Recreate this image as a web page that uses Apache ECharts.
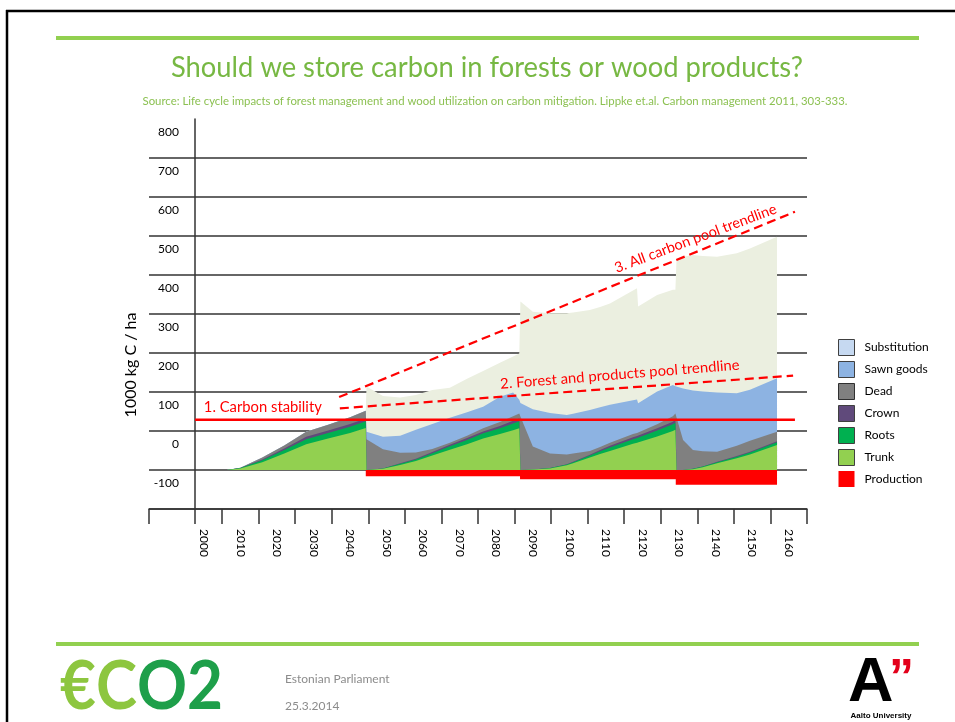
<!DOCTYPE html>
<html>
<head>
<meta charset="utf-8">
<script src="https://cdn.jsdelivr.net/npm/echarts@6/dist/echarts.min.js"></script>
<style>
html,body{margin:0;padding:0;background:#ffffff;}
#chart{width:955px;height:722px;}
</style>
</head>
<body>
<div id="chart"></div>
<script>
// ---------------- data ----------------
const categories = ['', '2000','2010','2020','2030','2040','2050','2060','2070','2080','2090','2100','2110','2120','2130','2140','2150','2160'];
const yTickLabels = ['-100','0','100','200','300','400','500','600','700','800'];

const years = [
  2006.3, 2010, 2016, 2022, 2028, 2034, 2040, 2044.3,
  2044.5, 2049, 2053.7, 2058, 2062.5, 2067.3, 2072, 2076.4, 2081, 2084.6, 2086.3,
  2086.6, 2090, 2094.7, 2099.3, 2101, 2105.6, 2108.4, 2111.1, 2117.4, 2118.5, 2118.8, 2124, 2128.3, 2129.0,
  2129.3, 2131.1, 2133.8, 2136.5, 2140.4, 2145.8, 2149.4, 2156.8
];
const trunk = [0,4,20,42,66,81,95,108, 0,3,13,23,37,52,66,81,92,102,107, 0,1,4,12,17,32,41,49,67,70,71,86,100,103, 0,0,2,7,17,30,40,64];
const roots = [0,1,5,9,13,14,16,17, 0,1,3,4,6,9,11,13,15,17,18, 0,0,1,2,3,5,7,9,12,12,12,15,17,18, 0,0,1,2,3,4,5,7];
const crown = [0,0,2,4,6,6,7,7, 0,0,1,2,3,4,5,5,6,7,7, 0,0,0,1,1,2,3,4,5,5,5,6,7,8, 0,0,0,0,1,2,2,3];
const dead = [0,1,5,8,13,15,17,20, 79,49,27,16,8,5,6,8,10,12,13, 137,59,37,25,21,10,8,8,8,8,8,10,14,16, 145,77,48,39,26,26,28,24];
const sawnGoods = [0,0,0,0,0,0,0,0, 19,32,44,58,64,64,60,55,65,61,35, 35,96,104,101,102,105,102,97,87,86,75,84,80,70, 70,132,153,153,152,135,131,137];
const substitution = [0,0,0,0,0,0,0,0, 116,105,98,89,87,77,86,92,87,92,119, 260,250,256,261,260,256,257,260,281,285,248,248,244,247, 323,338,347,348,348,359,362,363];

const productionYears = [2044.3, 2086.5, 2129.1, 2156.8];
const production = [-16, -24, -38, -38];

const stabilityYears = [1997.6, 2161.7];
const stability = [129, 129];
const forestTrendYears = [2037.2, 2161.2];
const forestTrend = [158, 242];
const allTrendYears = [2037.0, 2161.7];
const allTrend = [187, 662];

// ---------------- helpers ----------------
const pairs = (xs, ys) => xs.map((x, i) => [x, ys[i]]);
const addArr = (a, b) => a.map((v, i) => v + b[i]);
const cTrunk = trunk.slice();
const cRoots = addArr(cTrunk, roots);
const cCrown = addArr(cRoots, crown);
const cDead = addArr(cCrown, dead);
const cSawn = addArr(cDead, sawnGoods);
const cSubst = addArr(cSawn, substitution);

const FONT = 'Lato, "Open Sans", sans-serif';
const RED = '#ff0000';

function areaSeries(name, color, vals) {
  return {
    type: 'line', name: name, xAxisIndex: 1, yAxisIndex: 0,
    data: pairs(years, vals), symbol: 'none', showSymbol: false,
    color: color, lineStyle: { width: 0, color: color },
    areaStyle: { color: color, opacity: 1 }, silent: true, z: 2
  };
}
function trendSeries(xs, ys, dashed) {
  return {
    type: 'line', xAxisIndex: 1, yAxisIndex: 0, data: pairs(xs, ys),
    symbol: 'none', silent: true, z: 5,
    lineStyle: { color: RED, width: dashed ? 2.2 : 2.5, type: dashed ? [9, 5] : 'solid' }
  };
}

const chart = echarts.init(document.getElementById('chart'), null, { renderer: 'canvas', width: 955, height: 722 });

const option = {
  animation: false,
  backgroundColor: '#ffffff',
  textStyle: { fontFamily: FONT },
  grid: { left: 149, right: 148, top: 119, bottom: 213, containLabel: false, outerBoundsMode: 'none' },
  legend: {
    show: true, orient: 'vertical', left: 838, top: 339, padding: 0,
    itemWidth: 16, itemHeight: 16, itemGap: 5, icon: 'rect', selectedMode: false,
    textStyle: { fontSize: 12, color: '#000', fontFamily: FONT, padding: [0, 0, 0, 5] },
    data: [
      { name: 'Substitution', itemStyle: { color: '#c6d9f1', borderColor: '#404040', borderWidth: 1 } },
      { name: 'Sawn goods', itemStyle: { color: '#8db3e2', borderColor: '#404040', borderWidth: 1 } },
      { name: 'Dead', itemStyle: { color: '#808080', borderColor: '#303030', borderWidth: 1 } },
      { name: 'Crown', itemStyle: { color: '#604a7b', borderColor: '#404040', borderWidth: 1 } },
      { name: 'Roots', itemStyle: { color: '#00b050', borderColor: '#404040', borderWidth: 1 } },
      { name: 'Trunk', itemStyle: { color: '#92d050', borderColor: '#404040', borderWidth: 1 } },
      { name: 'Production', itemStyle: { color: '#ff0000', borderColor: '#ff0000', borderWidth: 0 } }
    ]
  },
  xAxis: [
    {
      type: 'category', data: categories, boundaryGap: true, position: 'bottom',
      axisLine: { show: true, onZero: false, lineStyle: { color: '#333', width: 1.5 } },
      axisTick: { show: true, length: 15, interval: (i) => i !== 1, lineStyle: { color: '#333', width: 1.5 } },
      axisLabel: { interval: 0, rotate: -90, margin: 20, color: '#000', fontSize: 12, fontFamily: FONT },
      splitLine: { show: false }
    },
    { type: 'value', min: 1985, max: 2165, show: false }
  ],
  yAxis: {
    type: 'value', min: -100, max: 900, interval: 100, position: 'left', offset: -46,
    axisLine: { show: true, onZero: false, lineStyle: { color: '#333', width: 1.5 } },
    axisTick: { show: false },
    axisLabel: {
      formatter: (v) => { const s = yTickLabels[Math.round(v / 100)]; return s === undefined ? '' : s; },
      margin: 16, color: '#000', fontSize: 12, fontFamily: FONT, verticalAlign: 'top', padding: [7, 0, 0, 0]
    },
    splitLine: { show: true, showMaxLine: false, lineStyle: { color: '#333', width: 1.5 } }
  },
  series: [
    areaSeries('Substitution', '#ebefe0', cSubst),
    areaSeries('Sawn goods', '#8db3e2', cSawn),
    areaSeries('Dead', '#808080', cDead),
    areaSeries('Crown', '#604a7b', cCrown),
    areaSeries('Roots', '#00b050', cRoots),
    areaSeries('Trunk', '#92d050', cTrunk),
    {
      type: 'line', name: 'Production', xAxisIndex: 1, yAxisIndex: 0, step: 'end',
      data: pairs(productionYears, production), symbol: 'none', showSymbol: false,
      color: RED, lineStyle: { width: 0, color: RED }, areaStyle: { color: RED, opacity: 1 }, silent: true, z: 3
    },
    trendSeries(stabilityYears, stability, false),
    trendSeries(forestTrendYears, forestTrend, true),
    trendSeries(allTrendYears, allTrend, true)
  ]
};
chart.setOption(option);

// ---------------- decorations / annotations ----------------
const mctx = document.createElement('canvas').getContext('2d');
function fit(text, font, target) { mctx.font = font; return target / mctx.measureText(text).width; }
const P = (x, y) => chart.convertToPixel({ xAxisIndex: 1, yAxisIndex: 0 }, [x, y]);
const deg = (d) => d * Math.PI / 180;

function txt(text, x, y, font, fill, align, opts) {
  opts = opts || {};
  return Object.assign({
    type: 'text', x: x, y: y, silent: true, z: 20,
    style: { text: text, font: font, fill: fill, align: align || 'left', verticalAlign: 'middle',
             textAlign: align || 'left', textVerticalAlign: 'middle' }
  }, opts);
}

const titleText = 'Should we store carbon in forests or wood products?';
const titleFont = '28px ' + FONT;
const subText = 'Source: Life cycle impacts of forest management and wood utilization on carbon mitigation. Lippke et.al. Carbon management 2011, 303-333.';
const subFont = '11px ' + FONT;
const logoFont = 'bold 66px ' + FONT;
const annFont = '14.5px ' + FONT;

const a1 = P(2000.0, 161.5);
const a2 = P(2113.8, 244.9);
const a3 = P(2134.5, 593.6);

const graphics = [
  // slide frame
  { type: 'line', shape: { x1: 6, y1: 11, x2: 955, y2: 11 }, style: { stroke: '#000', lineWidth: 2.5 }, silent: true },
  { type: 'line', shape: { x1: 7, y1: 10, x2: 7, y2: 722 }, style: { stroke: '#000', lineWidth: 2.5 }, silent: true },
  // green bars
  { type: 'rect', shape: { x: 56, y: 36, width: 863, height: 4 }, style: { fill: '#92d050' }, silent: true },
  { type: 'rect', shape: { x: 56, y: 642, width: 863, height: 4 }, style: { fill: '#92d050' }, silent: true },
  // title & subtitle
  txt(titleText, 487, 68, titleFont, '#77b843', 'center', { scaleX: fit(titleText, titleFont, 632) }),
  txt(subText, 495, 101, subFont, '#8cc152', 'center', { scaleX: fit(subText, subFont, 705) }),
  // y axis name
  txt('1000 kg C / ha', 131, 365, '16px ' + FONT, '#000', 'center', { rotation: deg(90) }),
  // y axis extension below the x axis
  { type: 'line', shape: { x1: 195, y1: 509, x2: 195, y2: 524 }, style: { stroke: '#333', lineWidth: 1.5 }, silent: true },
  // annotations
  txt('1. Carbon stability', a1[0], a1[1], annFont, RED, 'left', { scaleX: fit('1. Carbon stability', annFont, 118) }),
  txt('2. Forest and products pool trendline', a2[0], a2[1], annFont, RED, 'center',
      { rotation: deg(4.6), scaleX: fit('2. Forest and products pool trendline', annFont, 240) }),
  txt('3. All carbon pool trendline', a3[0], a3[1], annFont, RED, 'center', { rotation: deg(20.5) }),
  // footer
  txt('Estonian Parliament', 285, 679, '12px ' + FONT, '#8c8c8c', 'left'),
  txt('25.3.2014', 285, 706, '12px ' + FONT, '#8c8c8c', 'left'),
  {
    type: 'text', x: 60, y: 688, silent: true, scaleX: fit('€CO2', logoFont, 162),
    style: {
      text: '{l|€C}{d|O2}', align: 'left', verticalAlign: 'middle', textAlign: 'left', textVerticalAlign: 'middle',
      rich: {
        l: { font: logoFont, fill: '#8dc63f', fontWeight: 'bold', fontSize: 66, fontFamily: FONT },
        d: { font: logoFont, fill: '#1e9f4a', fontWeight: 'bold', fontSize: 66, fontFamily: FONT }
      }
    }
  },
  txt('A', 848, 684, 'bold 63px "Liberation Sans", Arial, sans-serif', '#000', 'left'),
  txt('\u201D', 889, 680, 'bold 50px "Liberation Sans", Arial, sans-serif', '#e3001b', 'left'),
  txt('Aalto University', 881, 716, 'bold 8px "Liberation Sans", Arial, sans-serif', '#000', 'center')
];
chart.setOption({ graphic: graphics });
</script>
</body>
</html>
